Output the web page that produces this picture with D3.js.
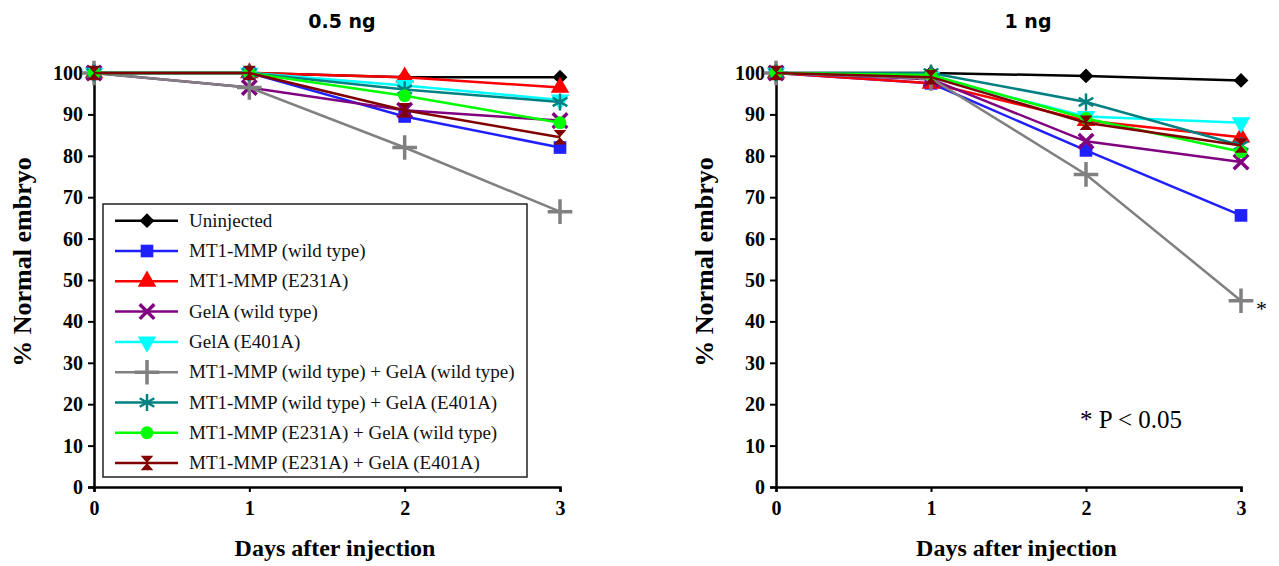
<!DOCTYPE html>
<html>
<head>
<meta charset="utf-8">
<script src="https://cdn.jsdelivr.net/npm/d3@7"></script>
<style>
  body { margin: 0; background: #fff; }
  svg { display: block; }
</style>
</head>
<body>
<div id="chart"></div>
<script>
// days on the x axis
const days = [0, 1, 2, 3];
const yTicks = [0, 10, 20, 30, 40, 50, 60, 70, 80, 90, 100];

const seriesNames = [
  "Uninjected",
  "MT1-MMP (wild type)",
  "MT1-MMP (E231A)",
  "GelA (wild type)",
  "GelA (E401A)",
  "MT1-MMP (wild type) + GelA (wild type)",
  "MT1-MMP (wild type) + GelA (E401A)",
  "MT1-MMP (E231A) + GelA (wild type)",
  "MT1-MMP (E231A) + GelA (E401A)"
];

// % normal embryo, 0.5 ng panel (one row per series, days 0..3)
const values05 = [
  [100, 100, 99, 99],
  [100, 100, 89.5, 82],
  [100, 100, 99, 96.5],
  [100, 96.5, 91, 88.5],
  [100, 100, 97, 93.5],
  [100, 96.5, 82, 66.5],
  [100, 100, 96, 93],
  [100, 100, 94.5, 88],
  [100, 100, 91, 84.5]
];

// % normal embryo, 1 ng panel
const values1 = [
  [100, 100, 99.3, 98.2],
  [100, 97.5, 81.3, 65.6],
  [100, 97.5, 88.5, 84.5],
  [100, 98.5, 83.5, 78.5],
  [100, 99, 89.5, 88],
  [100, 98.7, 75.5, 45],
  [100, 100, 93, 82.5],
  [100, 99.5, 89, 81],
  [100, 99, 88, 82.5]
];

const colors = ["#000000", "#2020ff", "#ff0000", "#800080", "#00ffff",
                "#808080", "#008080", "#00ff00", "#800000"];

// hourglass marker for the last series
const symbolHourglass = {
  draw(ctx, size) {
    const w = Math.sqrt(size) / 2, h = w * 1.15;
    ctx.moveTo(-w, -h);
    ctx.lineTo(w, -h);
    ctx.lineTo(-w, h);
    ctx.lineTo(w, h);
    ctx.closePath();
  }
};

// marker: [symbol type, size, filled?, rotate]
const markers = [
  [d3.symbolSquare, 110, true, 45],
  [d3.symbolSquare, 160, true, 0],
  [d3.symbolTriangle, 150, true, 0],
  [d3.symbolTimes, 140, false, 0],
  [d3.symbolTriangle, 150, true, 180],
  [d3.symbolPlus, 200, false, 0],
  [d3.symbolAsterisk, 200, false, 0],
  [d3.symbolCircle, 130, true, 0],
  [symbolHourglass, 160, true, 0]
];

const width = 1279, height = 566;
const svg = d3.select("#chart").append("svg")
  .attr("width", width).attr("height", height);

const serif = "Liberation Serif, Times New Roman, serif";

function drawMarker(g, i, x, y) {
  const m = markers[i];
  const p = g.append("path")
    .attr("d", d3.symbol().type(m[0]).size(m[1])())
    .attr("transform", `translate(${x},${y}) rotate(${m[3]})`);
  if (m[2]) p.attr("fill", colors[i]).attr("stroke", "none");
  else p.attr("fill", "none").attr("stroke", colors[i])
        .attr("stroke-width", i === 6 ? 2.5 : 3.5);
}

function drawPanel(x0, x1, values, title, titleX) {
  const x = d3.scaleLinear().domain([0, 3]).range([x0, x1]);
  const y = d3.scaleLinear().domain([0, 100]).range([487, 73]);
  const g = svg.append("g");

  // title
  g.append("text")
    .attr("x", titleX).attr("y", 28)
    .attr("text-anchor", "middle")
    .attr("font-family", "DejaVu Sans, Verdana, sans-serif")
    .attr("font-weight", "bold")
    .attr("font-size", 19)
    .text(title);

  // axes
  const yAxis = d3.axisLeft(y).tickValues(yTicks).tickSize(6).tickPadding(5);
  const ya = g.append("g").attr("transform", `translate(${x0},0)`).call(yAxis);
  const xAxis = d3.axisBottom(x).tickValues(days).tickFormat(d3.format("d"))
    .tickSize(5).tickPadding(9);
  const xa = g.append("g").attr("transform", `translate(0,487)`).call(xAxis);
  [ya, xa].forEach(a => {
    a.attr("font-family", serif).attr("font-size", 20).attr("font-weight", "bold");
    a.select(".domain").attr("stroke", "#000").attr("stroke-width", 2.5);
    a.selectAll(".tick line").attr("stroke", "#000").attr("stroke-width", 2);
    a.selectAll(".tick text")
      .attr("font-family", serif).attr("font-weight", "bold")
      .attr("font-size", 20).attr("fill", "#000");
  });

  // axis titles
  g.append("text")
    .attr("x", (x0 + x1) / 2 + 8).attr("y", 556)
    .attr("text-anchor", "middle")
    .attr("font-family", serif).attr("font-weight", "bold")
    .attr("font-size", 24)
    .text("Days after injection");
  g.append("text")
    .attr("transform", `translate(${x0 - 63},262) rotate(-90)`)
    .attr("text-anchor", "middle")
    .attr("font-family", serif).attr("font-weight", "bold")
    .attr("font-size", 26)
    .text("% Normal embryo");

  // series
  const line = d3.line().x((d, j) => x(days[j])).y(d => y(d));
  values.forEach((vals, i) => {
    const s = g.append("g");
    s.append("path").datum(vals)
      .attr("d", line)
      .attr("fill", "none")
      .attr("stroke", colors[i])
      .attr("stroke-width", 2.5);
    vals.forEach((v, j) => drawMarker(s, i, x(days[j]), y(v)));
  });
  return { g, x, y };
}

const left = drawPanel(94, 560, values05, "0.5 ng", 342);
const right = drawPanel(776, 1241, values1, "1 ng", 1028);

// legend in the left panel
const leg = svg.append("g");
leg.append("rect")
  .attr("x", 103).attr("y", 204).attr("width", 424).attr("height", 273)
  .attr("fill", "#fff").attr("stroke", "#222").attr("stroke-width", 1.5);
seriesNames.forEach((name, i) => {
  const cy = 220.7 + i * 30.3;
  leg.append("line")
    .attr("x1", 115).attr("x2", 178).attr("y1", cy).attr("y2", cy)
    .attr("stroke", colors[i]).attr("stroke-width", 2.5);
  drawMarker(leg, i, 147, cy);
  leg.append("text")
    .attr("x", 189).attr("y", cy + 6)
    .attr("font-family", serif).attr("font-size", 19)
    .attr("fill", "#111")
    .text(name);
});

// significance notes on the right panel
svg.append("text")
  .attr("x", 1256).attr("y", 316)
  .attr("font-family", serif).attr("font-size", 22)
  .text("*");
svg.append("text")
  .attr("x", 1080).attr("y", 428)
  .attr("font-family", serif).attr("font-size", 25)
  .text("* P < 0.05");
</script>
</body>
</html>
